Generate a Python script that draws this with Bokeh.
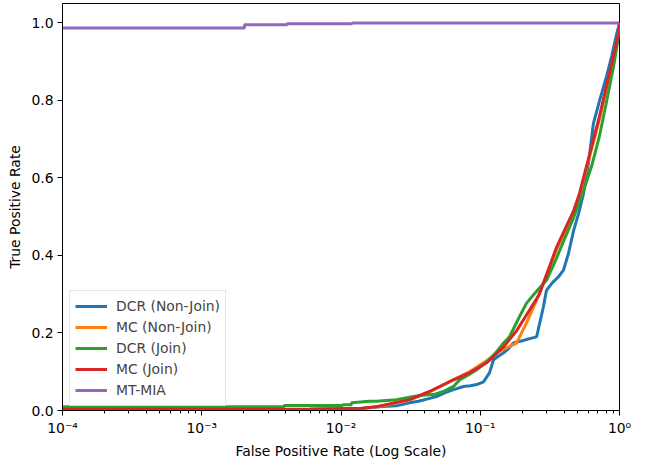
from bokeh.plotting import figure
from bokeh.models import Range1d, FixedTicker, CustomJSTickFormatter, PrintfTickFormatter, Legend, LegendItem
from bokeh.embed import file_html
from bokeh.resources import INLINE

# ---- data ----
dcr_nj_fpr = [1e-4, 0.004, 0.008, 0.012, 0.016, 0.020, 0.025, 0.031, 0.036, 0.042, 0.0485, 0.056, 0.0643,
              0.0759, 0.085, 0.0943, 0.1055, 0.1165, 0.1245, 0.135, 0.147, 0.160, 0.173, 0.20, 0.23, 0.254,
              0.284, 0.299, 0.33, 0.365, 0.396, 0.43, 0.468, 0.51, 0.551, 0.60, 0.650, 0.72, 0.807, 0.88, 0.951, 1.0]
dcr_nj_tpr = [0.001, 0.001, 0.002, 0.004, 0.007, 0.010, 0.012, 0.020, 0.024, 0.030, 0.036, 0.046, 0.054,
              0.062, 0.064, 0.067, 0.074, 0.097, 0.131, 0.140, 0.149, 0.160, 0.174, 0.180, 0.186, 0.190,
              0.267, 0.310, 0.330, 0.345, 0.362, 0.405, 0.464, 0.51, 0.559, 0.64, 0.741, 0.80, 0.862, 0.915, 0.969, 1.0]

mc_nj_fpr = [1e-4, 0.006, 0.0144, 0.02, 0.031, 0.0432, 0.0643, 0.0837, 0.111, 0.131, 0.182, 0.215, 0.254,
             0.353, 0.468, 0.516, 0.718, 0.984, 1.0]
mc_nj_tpr = [0.002, 0.003, 0.006, 0.012, 0.027, 0.048, 0.080, 0.100, 0.128, 0.149, 0.174, 0.226, 0.285,
             0.415, 0.512, 0.555, 0.752, 0.970, 1.0]

dcr_j_fpr = [1e-4, 0.0039, 0.0039, 0.0103, 0.0103, 0.0119, 0.0119, 0.016, 0.018, 0.025, 0.0332, 0.040,
             0.0462, 0.055, 0.0643, 0.071, 0.082, 0.0943, 0.1165, 0.13, 0.147, 0.162, 0.19, 0.215, 0.25,
             0.299, 0.35, 0.40, 0.468, 0.551, 0.63, 0.718, 0.80, 0.906, 0.984, 1.0]
dcr_j_tpr = [0.0095, 0.0095, 0.013, 0.013, 0.015, 0.015, 0.020, 0.024, 0.024, 0.028, 0.036, 0.040,
             0.041, 0.050, 0.062, 0.079, 0.092, 0.105, 0.131, 0.150, 0.174, 0.190, 0.240, 0.277, 0.305,
             0.336, 0.39, 0.44, 0.497, 0.567, 0.63, 0.708, 0.79, 0.887, 0.965, 1.0]

mc_j_fpr = [1e-4, 0.002, 0.006, 0.0144, 0.018, 0.031, 0.0432, 0.0643, 0.0837, 0.111, 0.147, 0.182, 0.266,
            0.353, 0.468, 0.516, 0.718, 0.984, 1.0]
mc_j_tpr = [0.003, 0.003, 0.004, 0.006, 0.010, 0.028, 0.049, 0.079, 0.097, 0.123, 0.164, 0.205, 0.300,
            0.421, 0.515, 0.560, 0.759, 0.972, 1.0]

mtmia_fpr = [1e-4, 0.00203, 0.00203, 0.0041, 0.0041, 0.012, 0.012, 1.0]
mtmia_tpr = [0.987, 0.987, 0.995, 0.995, 0.998, 0.998, 1.0, 1.0]

series = [
    ("DCR (Non-Join)", dcr_nj_fpr, dcr_nj_tpr, "#1f77b4"),
    ("MC (Non-Join)", mc_nj_fpr, mc_nj_tpr, "#ff7f0e"),
    ("DCR (Join)", dcr_j_fpr, dcr_j_tpr, "#2ca02c"),
    ("MC (Join)", mc_j_fpr, mc_j_tpr, "#d62728"),
    ("MT-MIA", mtmia_fpr, mtmia_tpr, "#9467bd"),
]

x_major = [1e-4, 1e-3, 1e-2, 1e-1, 1.0]
x_minor = [k * 10.0 ** e for e in range(-4, 0) for k in range(2, 10)]
y_major = [0.0, 0.2, 0.4, 0.6, 0.8, 1.0]

FONT = "DejaVu Sans"
FS = "13.9px"

p = figure(frame_width=557, frame_height=407, x_axis_type="log", output_backend="svg",
           toolbar_location=None,
           x_range=Range1d(1e-4, 1.0), y_range=Range1d(0.0, 1.05),
           min_border_left=62, min_border_right=27, min_border_top=3, min_border_bottom=36)

p.xgrid.visible = False
p.ygrid.visible = False
p.outline_line_color = "black"
p.outline_line_width = 1
p.outline_line_alpha = 1.0
p.background_fill_color = "white"
p.border_fill_color = "white"

items = []
for name, xs, ys, col in series:
    r = p.line(xs, ys, line_color=col, line_width=3)
    items.append(LegendItem(label=name, renderers=[r]))

legend = Legend(items=items, location=(7, 4), label_text_font=FONT, label_text_font_size=FS,
                glyph_width=32, glyph_height=20, label_height=20, spacing=1, padding=5, margin=0,
                border_line_color="#cccccc", border_line_width=1, background_fill_alpha=0.8,
                label_standoff=9)
p.add_layout(legend)

p.xaxis.ticker = FixedTicker(ticks=x_major, minor_ticks=x_minor)
p.xaxis.formatter = CustomJSTickFormatter(code="""
const sup = {'-':'\u207b','0':'\u2070','1':'\u00b9','2':'\u00b2','3':'\u00b3','4':'\u2074','5':'\u2075','6':'\u2076','7':'\u2077','8':'\u2078','9':'\u2079'};
const e = String(Math.round(Math.log10(tick)));
let s = '';
for (const c of e) { s += sup[c]; }
return '10' + s;
""")
p.yaxis.ticker = FixedTicker(ticks=y_major, minor_ticks=[])
p.yaxis.formatter = PrintfTickFormatter(format="%.1f")

p.xaxis.axis_label = "False Positive Rate (Log Scale)"
p.yaxis.axis_label = "True Positive Rate"

for ax in (p.xaxis[0], p.yaxis[0]):
    ax.axis_label_text_font = FONT
    ax.axis_label_text_font_size = FS
    ax.axis_label_text_font_style = "normal"
    ax.axis_label_text_color = "black"
    ax.major_label_text_font = FONT
    ax.major_label_text_font_size = FS
    ax.major_label_text_color = "black"
    ax.axis_line_color = "black"
    ax.major_tick_line_color = "black"
    ax.minor_tick_line_color = "black"
    ax.major_tick_out = 5
    ax.major_tick_in = 0
    ax.minor_tick_out = 3
    ax.minor_tick_in = 0
    ax.major_label_standoff = 4

p.xaxis.axis_label_standoff = 4
p.yaxis.axis_label_standoff = 5

open("out.html", "w").write(file_html(p, INLINE))
